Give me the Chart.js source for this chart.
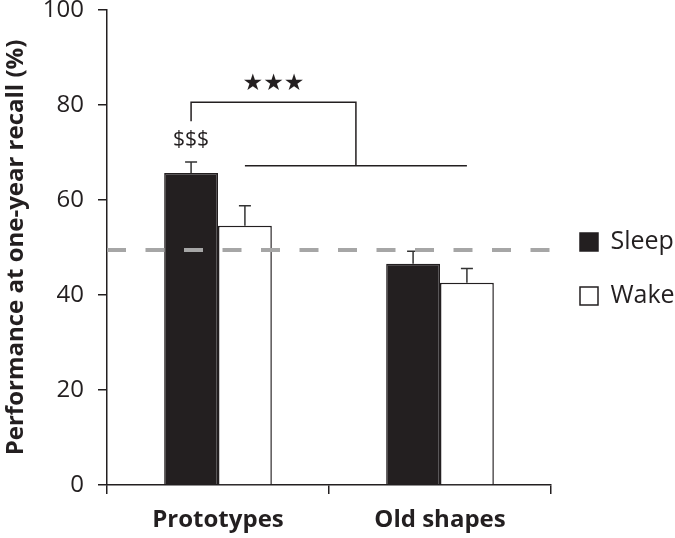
<!DOCTYPE html>
<html>
<head>
<meta charset="utf-8">
<script src="https://cdn.jsdelivr.net/npm/chart.js@4"></script>
<style>
    html, body { margin: 0; padding: 0; background: #fff; }
    #wrap { width: 675px; height: 538px; }
</style>
</head>
<body>
<div id="wrap"><canvas id="recallChart"></canvas></div>
<script>
const categories = ['Prototypes', 'Old shapes'];
const sleepValues = [65.7, 46.6];
const wakeValues = [54.6, 42.6];
const sleepErrors = [2.3, 2.6];
const wakeErrors = [4.2, 3.0];
const yTicks = [0, 20, 40, 60, 80, 100];
const chanceLevel = 49.5;

const ink = '#231f20';
const font = "'Open Sans', sans-serif";

// error bars, chance line and significance marks, all placed through the scales
const annotations = {
    id: 'annotations',
    afterDatasetsDraw(chart) {
        const { ctx, chartArea, scales: { y } } = chart;
        const sleepBars = chart.getDatasetMeta(0).data;
        const wakeBars = chart.getDatasetMeta(1).data;

        ctx.save();
        ctx.strokeStyle = '#333';
        ctx.lineWidth = 1.5;
        const errs = [[sleepBars, sleepValues, sleepErrors], [wakeBars, wakeValues, wakeErrors]];
        errs.forEach(([bars, vals, errors]) => {
            bars.forEach((bar, i) => {
                const top = y.getPixelForValue(vals[i] + errors[i]);
                ctx.beginPath();
                ctx.moveTo(bar.x, bar.y);
                ctx.lineTo(bar.x, top);
                ctx.moveTo(bar.x - 6, top);
                ctx.lineTo(bar.x + 6, top);
                ctx.stroke();
            });
        });

        // chance level
        const cy = y.getPixelForValue(chanceLevel);
        ctx.strokeStyle = '#a6a6a6';
        ctx.lineWidth = 4;
        ctx.setLineDash([19, 19.5]);
        ctx.beginPath();
        ctx.moveTo(chartArea.left, cy);
        ctx.lineTo(chartArea.right, cy);
        ctx.stroke();
        ctx.setLineDash([]);

        // bracket: prototypes sleep vs. wake pair
        const leftX = sleepBars[0].x;
        const lowL = wakeBars[0].x;
        const lowR = wakeBars[1].x;
        const midX = (lowL + lowR) / 2;
        const upperY = y.getPixelForValue(80.6);
        const lowerY = y.getPixelForValue(67.2);
        ctx.strokeStyle = ink;
        ctx.lineWidth = 1.5;
        ctx.beginPath();
        ctx.moveTo(leftX, y.getPixelForValue(76.6));
        ctx.lineTo(leftX, upperY);
        ctx.lineTo(midX, upperY);
        ctx.lineTo(midX, lowerY);
        ctx.moveTo(lowL, lowerY);
        ctx.lineTo(lowR, lowerY);
        ctx.stroke();

        ctx.fillStyle = ink;
        ctx.textAlign = 'center';
        ctx.textBaseline = 'middle';
        ctx.font = "23px 'DejaVu Sans'";
        ctx.fillText('★★★', (leftX + midX) / 2, y.getPixelForValue(84.4));
        ctx.font = '21px ' + font;
        ctx.fillText('$$$', leftX, y.getPixelForValue(72.6));
        ctx.restore();
    }
};

new Chart(document.getElementById('recallChart'), {
    type: 'bar',
    data: {
        labels: categories,
        datasets: [{
            label: 'Sleep',
            data: sleepValues,
            backgroundColor: ink,
            borderColor: ink,
            borderWidth: 1.5
        }, {
            label: 'Wake',
            data: wakeValues,
            backgroundColor: '#ffffff',
            borderColor: ink,
            borderWidth: 1.5
        }]
    },
    options: {
        responsive: true,
        maintainAspectRatio: false,
        animation: false,
        categoryPercentage: 0.485,
        barPercentage: 1,
        layout: { padding: 0 },
        scales: {
            x: {
                afterFit: (scale) => { scale.height = 53; },
                grid: { display: true, drawOnChartArea: false, offset: true, tickLength: 9, color: ink, lineWidth: 1.5 },
                border: { color: ink, width: 1.5 },
                ticks: { color: ink, padding: 12, font: { family: font, size: 24, weight: 'bold' } }
            },
            y: {
                min: 0,
                max: 100,
                afterBuildTicks: (scale) => { scale.ticks = yTicks.map(v => ({ value: v })); },
                afterFit: (scale) => {
                    scale.width = 107;
                    scale.paddingTop = 10;
                    scale.paddingBottom = 0;
                },
                grid: { drawOnChartArea: false, tickLength: 9, color: ink, lineWidth: 1.5 },
                border: { color: ink, width: 1.5 },
                ticks: { color: ink, padding: 14, font: { family: font, size: 24, lineHeight: 1 } },
                title: {
                    display: true,
                    text: 'Performance at one-year recall (%)',
                    color: ink,
                    padding: { top: 2, bottom: 0 },
                    font: { family: font, size: 24, weight: 'bold' }
                }
            }
        },
        plugins: {
            legend: {
                position: 'right',
                maxWidth: 124,
                labels: {
                    color: ink,
                    boxWidth: 18,
                    boxHeight: 18,
                    padding: 29,
                    font: { family: font, size: 25 }
                }
            },
            tooltip: { enabled: false }
        }
    },
    plugins: [annotations]
});
</script>
</body>
</html>
